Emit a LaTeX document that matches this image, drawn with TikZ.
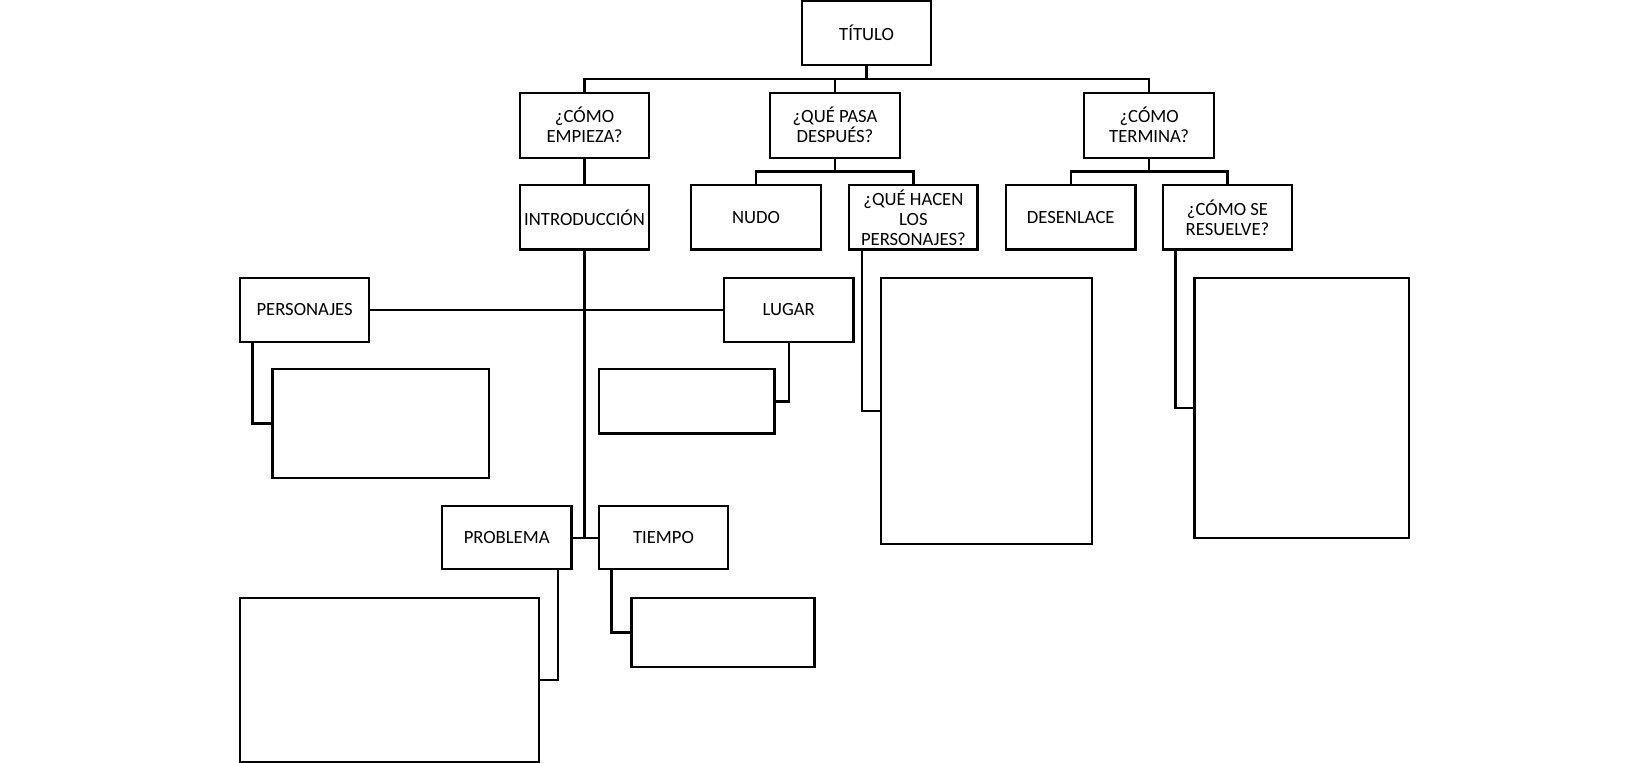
\documentclass[tikz,border=0pt]{standalone}
\usepackage{fontspec}
\setmainfont{Carlito}
\begin{document}
\begin{tikzpicture}[x=0.02cm,y=-0.02cm,
  box/.style={draw=black,line width=1.2pt,fill=white,inner sep=0pt,outer sep=0pt,
    align=center,font=\fontsize{10.1}{10.8}\selectfont},
  link/.style={draw=black,line width=1.25pt}]
\useasboundingbox (0,0) rectangle (1568,725);
% level 0-1
\node[box,minimum width=2.46cm,minimum height=1.22cm] (titulo) at (823.5,31.5) {TÍTULO};
\node[box,minimum width=2.46cm,minimum height=1.24cm] (empieza) at (555.5,119) {¿CÓMO\\EMPIEZA?};
\node[box,minimum width=2.46cm,minimum height=1.24cm] (despues) at (793.5,119) {¿QUÉ PASA\\DESPUÉS?};
\node[box,minimum width=2.48cm,minimum height=1.24cm] (termina) at (1092,119) {¿CÓMO\\TERMINA?};
% level 2
\node[box,minimum width=2.46cm,minimum height=1.22cm] (intro) at (555.5,206.5) {INTRODUCCIÓN};
\node[box,minimum width=2.46cm,minimum height=1.22cm] (nudo) at (718.5,206.5) {NUDO};
\node[box,minimum width=2.44cm,minimum height=1.22cm] (hacen) at (868,206.5) {¿QUÉ HACEN\\LOS\\PERSONAJES?};
\node[box,minimum width=2.46cm,minimum height=1.22cm] (desenlace) at (1017.5,206.5) {DESENLACE};
\node[box,minimum width=2.46cm,minimum height=1.22cm] (resuelve) at (1166.5,206.5) {¿CÓMO SE\\RESUELVE?};
% introduction parts
\node[box,minimum width=2.46cm,minimum height=1.22cm] (personajes) at (289.5,294.5) {PERSONAJES};
\node[box,minimum width=2.46cm,minimum height=1.22cm] (lugar) at (749.5,294.5) {LUGAR};
\node[box,minimum width=2.46cm,minimum height=1.20cm] (problema) at (481.5,511) {PROBLEMA};
\node[box,minimum width=2.46cm,minimum height=1.20cm] (tiempo) at (630.5,511) {TIEMPO};
% empty answer boxes
\node[box,minimum width=4.12cm,minimum height=2.06cm] (pbox) at (362,402.5) {};
\node[box,minimum width=3.34cm,minimum height=1.22cm] (lbox) at (652.5,381.5) {};
\node[box,minimum width=5.68cm,minimum height=3.12cm] (probox) at (370,646) {};
\node[box,minimum width=3.48cm,minimum height=1.32cm] (tbox) at (687,601) {};
\node[box,minimum width=4.02cm,minimum height=5.06cm] (hbox) at (937.5,390.5) {};
\node[box,minimum width=4.08cm,minimum height=4.94cm] (rbox) at (1237,387.5) {};
% bus coordinates
\coordinate (bus1) at (823.5,75);
\coordinate (bus2) at (793.5,163);
\coordinate (bus3) at (1092,163);
\coordinate (trunk) at (555.5,511);
% connectors
\draw[link] (titulo.south) -- (bus1);
\draw[link] (empieza.north) |- (bus1) -| (termina.north);
\draw[link] (despues.north) -- (despues.north |- bus1);
\draw[link] (empieza.south) -- (intro.north);
\draw[link] (despues.south) -- (bus2);
\draw[link] (nudo.north) |- (bus2) -| (hacen.north);
\draw[link] (termina.south) -- (bus3);
\draw[link] (desenlace.north) |- (bus3) -| (resuelve.north);
\draw[link] (intro.south) -- (trunk);
\draw[link] (problema.east) -- (tiempo.west);
\draw[link] (personajes.east) -- (lugar.west);
\draw[link] ([xshift=0.24cm]personajes.south west) |- (pbox.west);
\draw[link] (lugar.south) |- (lbox.east);
\draw[link] ([xshift=-0.26cm]problema.south east) |- (probox.east);
\draw[link] ([xshift=0.24cm]tiempo.south west) |- (tbox.west);
\draw[link] ([xshift=0.24cm]hacen.south west) |- (hbox.west);
\draw[link] ([xshift=0.24cm]resuelve.south west) |- (rbox.west);
\end{tikzpicture}
\end{document}
